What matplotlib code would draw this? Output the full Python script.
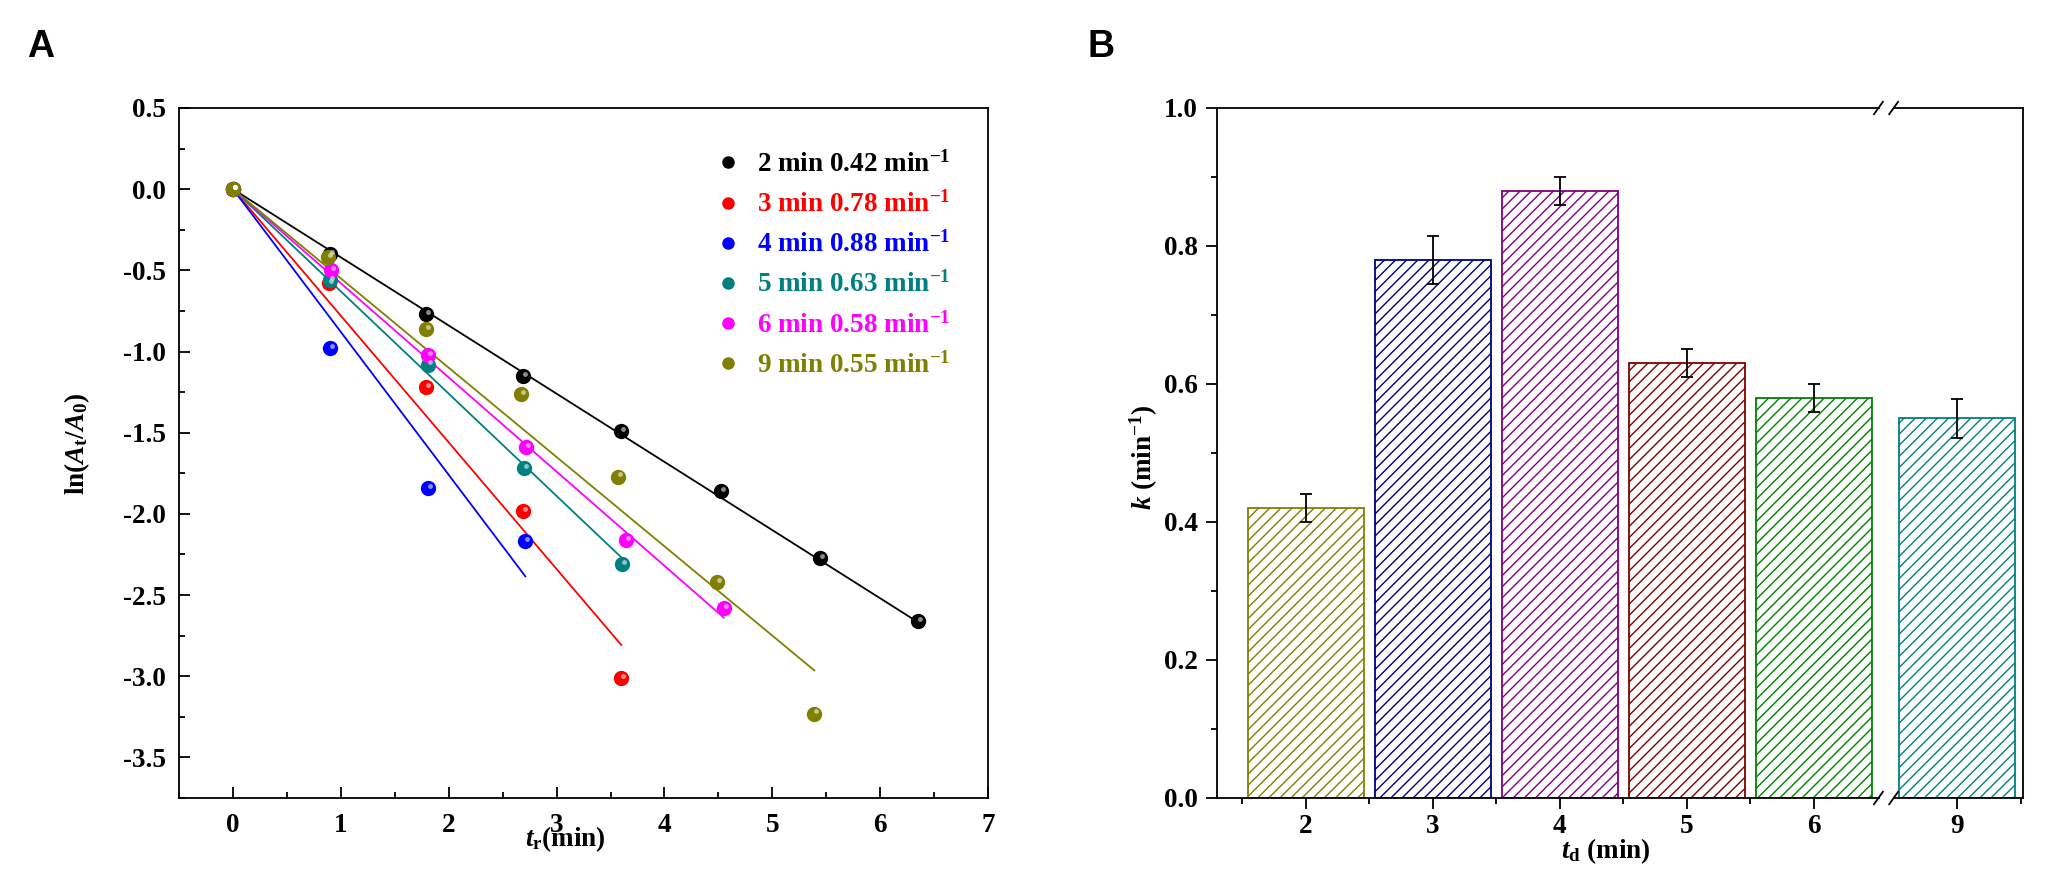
import numpy as np
import matplotlib
matplotlib.use("Agg")
import matplotlib.pyplot as plt
from matplotlib.ticker import MultipleLocator, FixedLocator
import matplotlib.transforms as mtransforms

plt.rcParams["font.family"] = ["Liberation Serif", "DejaVu Serif"]
plt.rcParams["font.weight"] = "bold"
plt.rcParams["axes.labelweight"] = "bold"
plt.rcParams["axes.unicode_minus"] = False
plt.rcParams["mathtext.fontset"] = "custom"
plt.rcParams["mathtext.rm"] = "Liberation Serif:bold"
plt.rcParams["mathtext.it"] = "Liberation Serif:italic:bold"
plt.rcParams["mathtext.bf"] = "Liberation Serif:bold"
plt.rcParams["hatch.linewidth"] = 1.0

FS = 19.5

##### data -------------------------------------------------------------
# panel A: ln(At/A0) vs reaction time, one series per deposition time
labels_a = ["2 min", "3 min", "4 min", "5 min", "6 min", "9 min"]
rates = [0.42, 0.78, 0.88, 0.63, 0.58, 0.55]   # fitted k (min-1)
colors_a = ["#000000", "#ff0000", "#0000ff", "#008080", "#ff00ff", "#808000"]

t_2min = [0, 0.90, 1.79, 2.69, 3.60, 4.52, 5.44, 6.35]
ln_2min = [0, -0.40, -0.77, -1.15, -1.49, -1.86, -2.27, -2.66]
t_3min = [0, 0.89, 1.79, 2.69, 3.60]
ln_3min = [0, -0.58, -1.22, -1.98, -3.01]
t_4min = [0, 0.90, 1.81, 2.71]
ln_4min = [0, -0.98, -1.84, -2.17]
t_5min = [0, 0.90, 1.81, 2.70, 3.61]
ln_5min = [0, -0.56, -1.08, -1.72, -2.31]
t_6min = [0, 0.91, 1.81, 2.72, 3.64, 4.55]
ln_6min = [0, -0.50, -1.02, -1.59, -2.16, -2.58]
t_9min = [0, 0.88, 1.79, 2.67, 3.57, 4.49, 5.39]
ln_9min = [0, -0.42, -0.86, -1.26, -1.77, -2.42, -3.23]

times = [t_2min, t_3min, t_4min, t_5min, t_6min, t_9min]
lns = [ln_2min, ln_3min, ln_4min, ln_5min, ln_6min, ln_9min]

# panel B: rate constant vs deposition time
td = [2, 3, 4, 5, 6, 9]
k_err = [0.02, 0.035, 0.02, 0.02, 0.02, 0.028]
colors_b = ["#808000", "#000080", "#800080", "#800000", "#008000", "#008080"]

##### figure -----------------------------------------------------------
fig = plt.figure(figsize=(20.61, 8.91), dpi=100)
axA = fig.add_axes([0.0869, 0.1044, 0.3925, 0.7744])
axB = fig.add_axes([0.5905, 0.1044, 0.3909, 0.7744])

fig.text(0.0199, 0.947, "A", family="Liberation Sans", weight="bold", fontsize=27,
         ha="center", va="center")
fig.text(0.5342, 0.947, "B", family="Liberation Sans", weight="bold", fontsize=27,
         ha="center", va="center")

# ---- panel A
# little highlight on each ball, shifted up-right a bit
shine = axA.transData + mtransforms.ScaledTranslation(1.5 / 72, 1.5 / 72, fig.dpi_scale_trans)
for t, y, k, c, lab in zip(times, lns, rates, colors_a, labels_a):
    tf = np.array([0, t[-1]])
    axA.plot(tf, -k * tf, color=c, lw=1.3, zorder=2)
    axA.plot(t, y, "o", ms=10, color=c, mec=c, zorder=3,
             label=lab + " %.2f min$^{-1}$" % k)
    axA.plot(t, y, "o", ms=3.5, color="white", mec="none", alpha=0.55,
             transform=shine, zorder=4)

axA.set_xlim(-0.5, 7.0)
axA.set_ylim(-3.75, 0.5)
axA.xaxis.set_major_locator(MultipleLocator(1))
axA.xaxis.set_minor_locator(MultipleLocator(0.5))
axA.yaxis.set_major_locator(MultipleLocator(0.5))
axA.yaxis.set_minor_locator(MultipleLocator(0.25))
axA.tick_params(which="both", direction="in", top=False, right=False,
                labelsize=FS, width=1.3)
axA.tick_params(which="major", length=8)
axA.tick_params(which="minor", length=4.5)
axA.tick_params(axis="x", which="major", pad=10.5)
axA.tick_params(axis="y", which="major", pad=9.5)
axA.yaxis.set_major_formatter(matplotlib.ticker.FormatStrFormatter("%.1f"))
for s in axA.spines.values():
    s.set_linewidth(1.3)

leg = axA.legend(loc="upper left", bbox_to_anchor=(0.669, 0.937), frameon=False,
                 fontsize=FS, handlelength=0.6, handletextpad=0.77,
                 labelspacing=0.5, borderpad=0, borderaxespad=0, markerscale=0.8)
for txt, c in zip(leg.get_texts(), colors_a):
    txt.set_color(c)

axA.text(-0.126, 0.514, r"ln($A_{\mathrm{t}}$/$A_{\mathrm{0}}$)", transform=axA.transAxes,
         rotation=90, ha="center", va="center", fontsize=FS)
axA.text(0.477, -0.06, r"$t_{\mathrm{r}}$(min)", transform=axA.transAxes,
         ha="center", va="center", fontsize=FS)

# ---- panel B
gap = 1.87  # x-axis break between 6 and 9 min
xb = np.array([d if d <= 6 else d - gap for d in td], dtype=float)
axB.bar(xb, rates, width=0.913, color="white", edgecolor=colors_b, hatch="///",
        linewidth=1.3, zorder=1)
axB.errorbar(xb, rates, yerr=k_err, fmt="none", ecolor="black", elinewidth=1.3,
             capsize=4.5, capthick=1.3, zorder=3)

axB.set_xlim(1.30, 7.646)
axB.set_ylim(0, 1.0)
axB.set_xticks(xb, labels=[str(d) for d in td])
axB.xaxis.set_minor_locator(FixedLocator([1.5, 2.5, 3.5, 4.5, 5.5, 7.63]))
axB.yaxis.set_major_locator(MultipleLocator(0.2))
axB.yaxis.set_minor_locator(MultipleLocator(0.1))
axB.yaxis.set_major_formatter(matplotlib.ticker.FormatStrFormatter("%.1f"))
axB.tick_params(which="both", direction="out", top=False, right=False,
                labelsize=FS, width=1.3)
axB.tick_params(which="major", length=8)
axB.tick_params(which="minor", length=4.5)
axB.tick_params(axis="x", which="major", pad=3.5)
axB.tick_params(axis="y", which="major", pad=6)
for s in axB.spines.values():
    s.set_linewidth(1.3)

# break marks on top and bottom spines
xbrk = 6.57
trans = mtransforms.blended_transform_factory(axB.transData, axB.transAxes)
for yb in (0.0, 1.0):
    axB.plot([xbrk - 0.035, xbrk + 0.035], [yb, yb], color="white", lw=3,
             transform=trans, clip_on=False, zorder=5)
    for dx in (-0.06, 0.06):
        xc = xbrk + dx
        axB.plot([xc - 0.035, xc + 0.035], [yb - 0.009, yb + 0.009], color="black",
                 lw=1.3, transform=trans, clip_on=False, zorder=6)

axB.text(-0.091, 0.494, r"$k$ (min$^{\mathrm{-1}}$)", transform=axB.transAxes,
         rotation=90, ha="center", va="center", fontsize=FS)
axB.text(0.483, -0.077, r"$t_{\mathrm{d}}$ (min)", transform=axB.transAxes,
         ha="center", va="center", fontsize=FS)

fig.savefig("out.png", dpi=100)
